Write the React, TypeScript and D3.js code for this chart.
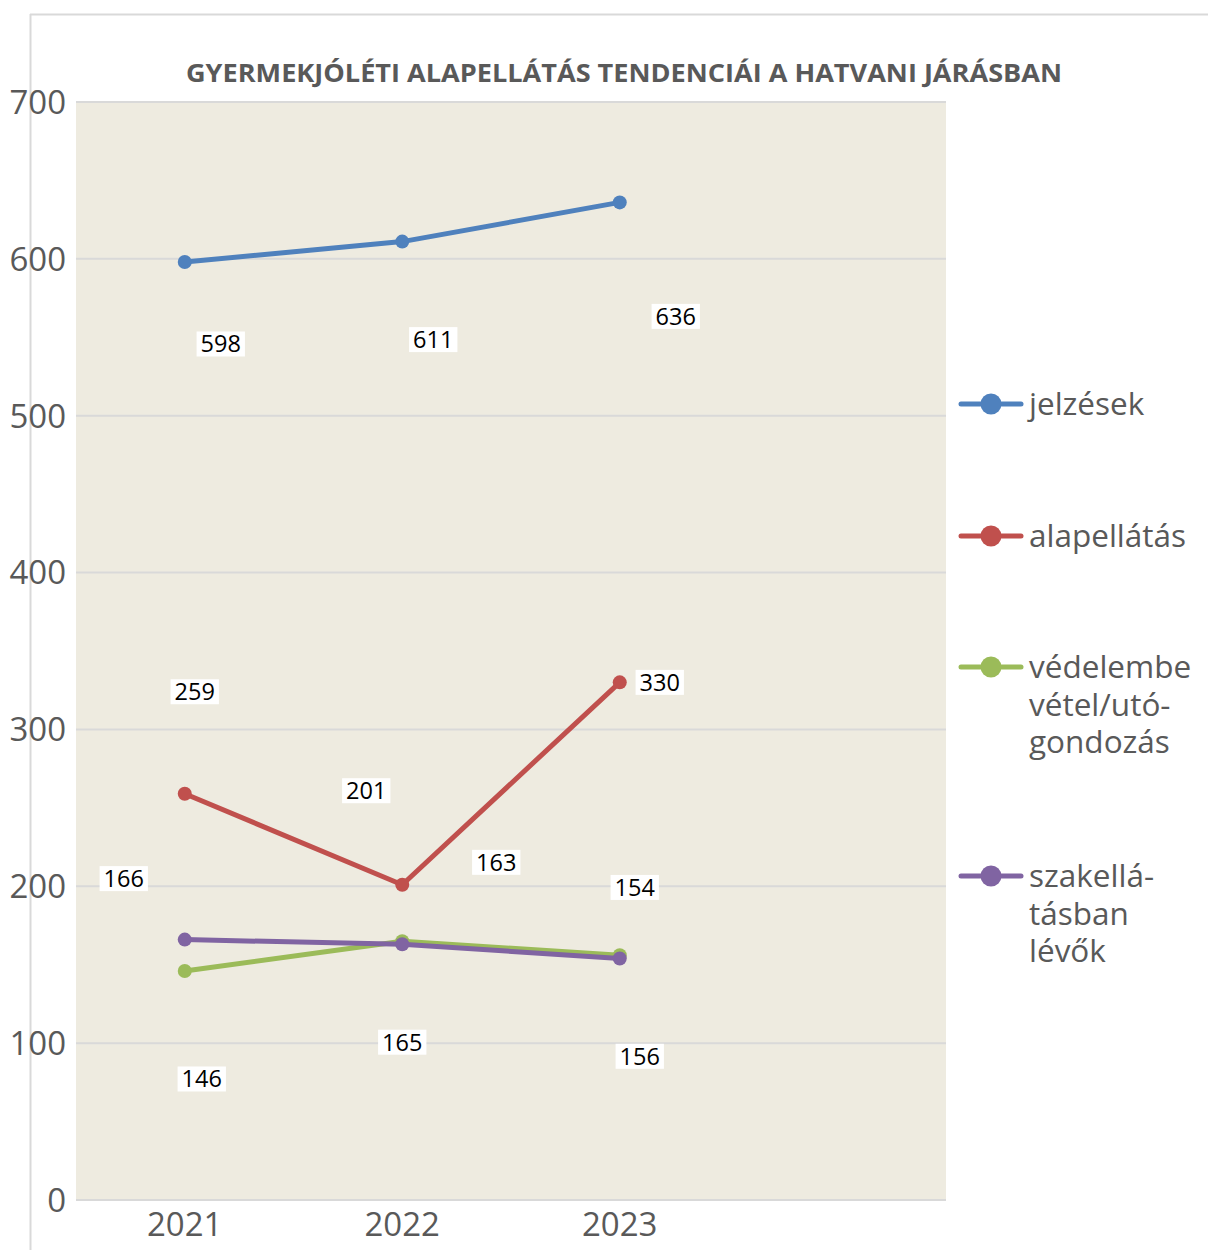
import * as d3 from "d3";
import React, { useEffect, useRef } from "react";

const years = ["2021", "2022", "2023"];
// the chart keeps an empty fourth slot on the category axis
const slots = [...years, ""];

const seriesNames = ["jelzések", "alapellátás", "védelembe vétel/utógondozás", "szakellátásban lévők"];
const legendLines = [["jelzések"], ["alapellátás"], ["védelembe", "vétel/utó-", "gondozás"], ["szakellá-", "tásban", "lévők"]];
const colors = ["#4f81bd", "#c0504d", "#9bbb59", "#8064a2"];

const jelzesek = [598, 611, 636];
const alapellatas = [259, 201, 330];
const vedelembe = [146, 165, 156];
const szakellatas = [166, 163, 154];

// label nudges in px, as placed in the original
const labelOffsets = [
  [[36, 82], [31, 98], [56, 114]],
  [[10, -102], [-36, -94], [40, 0]],
  [[17, 108], [0, 101], [20, 101]],
  [[-61, -61], [94, -82], [15, -71]],
];

const yTicks = [0, 100, 200, 300, 400, 500, 600, 700];

const W = 1208;
const H = 1250;
const font = "'Open Sans', 'DejaVu Sans', sans-serif";

const App: React.FC = () => {
  const ref = useRef<SVGSVGElement>(null);

  useEffect(() => {
    const svg = d3.select(ref.current);
    svg.selectAll("*").remove();

    const values = [jelzesek, alapellatas, vedelembe, szakellatas];
    const plot = { left: 76, right: 946, top: 102, bottom: 1200 };

    const x = d3.scaleBand<string>().domain(slots).range([plot.left, plot.right]).padding(0);
    const cx = (c: string) => (x(c) ?? 0) + x.bandwidth() / 2;
    const y = d3.scaleLinear().domain([0, 700]).range([plot.bottom, plot.top]);

    svg.append("rect").attr("width", W).attr("height", H).attr("fill", "#fff");

    // outer frame (top and left edge visible)
    svg.append("line").attr("x1", 30).attr("x2", W).attr("y1", 14.5).attr("y2", 14.5)
      .attr("stroke", "#d9d9d9").attr("stroke-width", 2);
    svg.append("line").attr("x1", 30.5).attr("x2", 30.5).attr("y1", 14).attr("y2", H)
      .attr("stroke", "#d9d9d9").attr("stroke-width", 2);

    svg.append("rect")
      .attr("x", plot.left).attr("y", plot.top)
      .attr("width", plot.right - plot.left).attr("height", plot.bottom - plot.top)
      .attr("fill", "#eeebe0");

    svg.append("g").selectAll("line").data(yTicks).join("line")
      .attr("x1", plot.left).attr("x2", plot.right)
      .attr("y1", (d) => y(d)).attr("y2", (d) => y(d))
      .attr("stroke", "#d9d9d9").attr("stroke-width", 2);

    svg.append("g").selectAll("text").data(yTicks).join("text")
      .attr("x", 66).attr("y", (d) => y(d)).attr("dy", "0.36em")
      .attr("text-anchor", "end").attr("font-family", font).attr("font-size", 33)
      .attr("fill", "#595959").text((d) => d);

    svg.append("g").selectAll("text").data(years).join("text")
      .attr("x", (d) => cx(d)).attr("y", 1236)
      .attr("text-anchor", "middle").attr("font-family", font).attr("font-size", 33)
      .attr("fill", "#595959").text((d) => d);

    svg.append("text")
      .attr("x", 186).attr("y", 82)
      .attr("font-family", font).attr("font-weight", "bold").attr("font-size", 25)
      .attr("textLength", 876).attr("lengthAdjust", "spacingAndGlyphs")
      .attr("fill", "#595959")
      .text("GYERMEKJÓLÉTI ALAPELLÁTÁS TENDENCIÁI A HATVANI JÁRÁSBAN");

    const line = d3.line<number>().x((_, i) => cx(years[i])).y((d) => y(d));

    values.forEach((vals, s) => {
      const g = svg.append("g");
      g.append("path").attr("d", line(vals)).attr("fill", "none")
        .attr("stroke", colors[s]).attr("stroke-width", 5).attr("stroke-linejoin", "round");
      g.selectAll("circle").data(vals).join("circle")
        .attr("cx", (_, i) => cx(years[i])).attr("cy", (d) => y(d)).attr("r", 7)
        .attr("fill", colors[s]);
    });

    // data labels on white boxes
    values.forEach((vals, s) => {
      vals.forEach((v, i) => {
        const [dx, dy] = labelOffsets[s][i];
        const lx = cx(years[i]) + dx;
        const ly = y(v) + dy;
        const g = svg.append("g");
        const rect = g.append("rect").attr("fill", "#fff");
        const t = g.append("text")
          .attr("x", lx).attr("y", ly).attr("dy", "0.36em")
          .attr("text-anchor", "middle").attr("font-family", font).attr("font-size", 23.5)
          .attr("fill", "#000").text(v);
        const bb = (t.node() as SVGTextElement).getBBox();
        rect.attr("x", bb.x - 4).attr("y", ly - 12.5).attr("width", bb.width + 8).attr("height", 25);
      });
    });

    // legend
    const legendY = [404, 536, 667, 876];
    seriesNames.forEach((name, s) => {
      const g = svg.append("g").attr("aria-label", name);
      const ly = legendY[s];
      g.append("line").attr("x1", 961).attr("x2", 1021).attr("y1", ly).attr("y2", ly)
        .attr("stroke", colors[s]).attr("stroke-width", 5).attr("stroke-linecap", "round");
      g.append("circle").attr("cx", 991).attr("cy", ly).attr("r", 10.5).attr("fill", colors[s]);
      legendLines[s].forEach((txt, k) => {
        g.append("text").attr("x", 1029).attr("y", ly + k * 37.5).attr("dy", "0.36em")
          .attr("font-family", font).attr("font-size", 31.5).attr("fill", "#595959").text(txt);
      });
    });
  }, []);

  return (
    <svg
      ref={ref}
      width={W}
      height={H}
      style={{ position: "absolute", left: 0, top: 0, display: "block" }}
    />
  );
};

export default App;
